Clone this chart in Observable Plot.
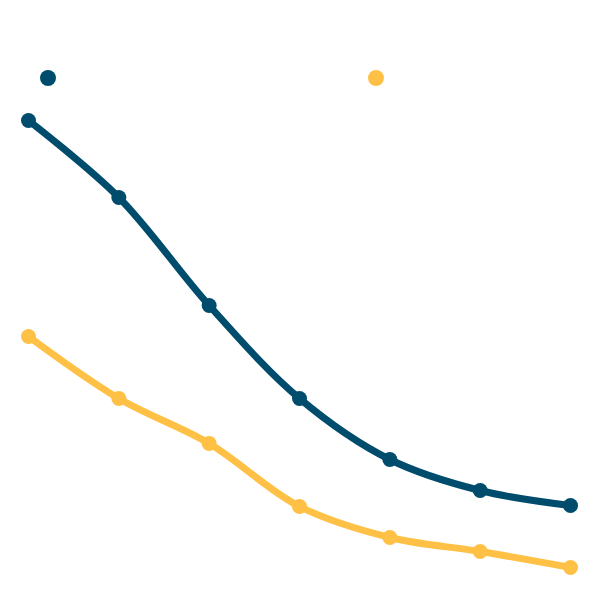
<!DOCTYPE html>
<html>
<head>
<meta charset="utf-8">
<script src="https://cdn.jsdelivr.net/npm/d3@7"></script>
<script src="https://cdn.jsdelivr.net/npm/@observablehq/plot@0.6"></script>
<style>
  html, body { margin: 0; padding: 0; background: #fff; }
  #wrap { position: relative; width: 600px; height: 600px; }
  #legend { position: absolute; top: 0; left: 0; width: 600px; height: 100px; }
  .sw { position: absolute; top: 70px; width: 16px; height: 16px; border-radius: 50%; }
</style>
</head>
<body>
<div id="wrap">
  <div id="chart"></div>
  <div id="legend"></div>
</div>
<script>
const categories = [1, 2, 3, 4, 5, 6, 7];
const seriesNames = ["A", "B"];
const seriesA = [96, 80.6, 59, 40.4, 28.2, 22, 19];
const seriesB = [52.8, 40.4, 31.4, 18.8, 12.6, 9.8, 6.6];
const colors = ["#004c6d", "#ffc145"];

const data = [];
categories.forEach((c, i) => {
  data.push({x: c, y: seriesA[i], s: seriesNames[0]});
  data.push({x: c, y: seriesB[i], s: seriesNames[1]});
});

const chart = Plot.plot({
  width: 600,
  height: 600,
  marginTop: 0,
  marginBottom: 0,
  marginLeft: 28,
  marginRight: 30,
  x: {domain: [1, 7], axis: null},
  y: {domain: [0, 120], axis: null},
  color: {domain: seriesNames, range: colors},
  marks: [
    Plot.line(data, {x: "x", y: "y", z: "s", stroke: "s", strokeWidth: 7, curve: "catmull-rom"}),
    Plot.dot(data, {x: "x", y: "y", fill: "s", r: 7.5})
  ]
});
document.getElementById("chart").appendChild(chart);

const legend = document.getElementById("legend");
const legendLeft = [40, 368];
seriesNames.forEach((n, i) => {
  const s = document.createElement("span");
  s.className = "sw";
  s.style.left = legendLeft[i] + "px";
  s.style.background = colors[i];
  legend.appendChild(s);
});
</script>
</body>
</html>
